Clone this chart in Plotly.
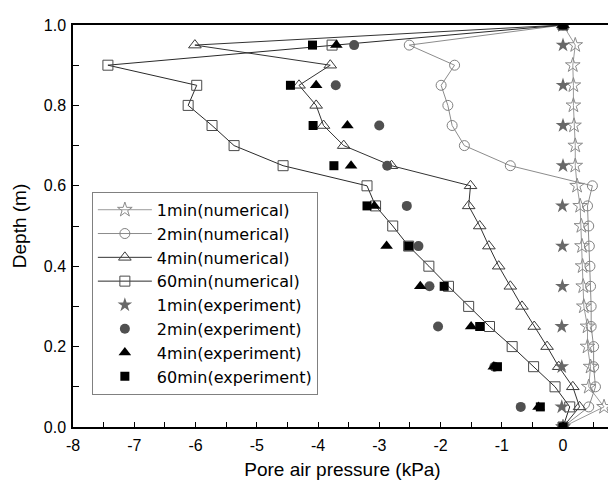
import plotly.graph_objects as go

# Depths (m)
depth_num = [0.0, 0.05, 0.10, 0.15, 0.20, 0.25, 0.30, 0.35, 0.40, 0.45, 0.50,
             0.55, 0.60, 0.65, 0.70, 0.75, 0.80, 0.85, 0.90, 0.95, 1.0]
depth_exp = [0.0, 0.05, 0.15, 0.25, 0.35, 0.45, 0.55, 0.65, 0.75, 0.85, 0.95, 1.0]

# Numerical pore air pressure (kPa)
num_1min = [0, 0.67, 0.42, 0.45, 0.40, 0.40, 0.34, 0.33, 0.32, 0.31, 0.30,
            0.28, 0.23, 0.20, 0.20, 0.18, 0.17, 0.17, 0.16, 0.20, 0]
num_2min = [0, 0.42, 0.53, 0.50, 0.50, 0.46, 0.46, 0.45, 0.44, 0.43, 0.42,
            0.40, 0.48, -0.86, -1.61, -1.81, -1.88, -1.99, -1.77, -2.51, 0]
num_4min = [0, 0.27, 0.16, -0.07, -0.26, -0.47, -0.67, -0.86, -1.05, -1.21, -1.36,
            -1.54, -1.51, -2.80, -3.58, -3.91, -4.03, -4.31, -3.80, -6.01, 0]
num_60min = [0, 0.11, -0.13, -0.48, -0.83, -1.20, -1.54, -1.87, -2.19, -2.52, -2.78,
             -3.06, -3.20, -4.57, -5.37, -5.73, -6.12, -5.98, -7.43, -3.77, 0]

# Experimental pore air pressure (kPa)
exp_1min = [0, -0.02, -0.02, -0.02, -0.01, -0.01, -0.01, 0.0, 0.0, 0.0, 0.0, 0]
exp_2min = [0, -0.69, -1.12, -2.04, -2.18, -2.36, -2.55, -2.87, -3.00, -3.71, -3.41, 0]
exp_4min = [0, -0.40, -1.13, -1.50, -2.33, -2.88, -3.08, -3.46, -3.52, -4.03, -3.70, 0]
exp_60min = [0, -0.37, -1.07, -1.36, -1.94, -2.52, -3.20, -3.74, -4.08, -4.45, -4.09, 0]

names_num = ["1min(numerical)", "2min(numerical)", "4min(numerical)", "60min(numerical)"]
names_exp = ["1min(experiment)", "2min(experiment)", "4min(experiment)", "60min(experiment)"]

# Axis tick labels
x_tick_vals = [-8, -7, -6, -5, -4, -3, -2, -1, 0]
x_tick_text = ["-8", "-7", "-6", "-5", "-4", "-3", "-2", "-1", "0"]
y_tick_vals = [0.0, 0.2, 0.4, 0.6, 0.8, 1.0]
y_tick_text = ["0.0", "0.2", "0.4", "0.6", "0.8", "1.0"]

fig = go.Figure()

num_styles = [
    ("star-open", "#8a8a8a", "#9a9a9a", 11),
    ("circle-open", "#808080", "#8c8c8c", 10),
    ("triangle-up-open", "#3a3a3a", "#333333", 11),
    ("square-open", "#4a4a4a", "#2a2a2a", 10),
]
for name, xs, (sym, mc, lc, ms) in zip(names_num, [num_1min, num_2min, num_4min, num_60min], num_styles):
    fig.add_trace(go.Scatter(
        x=xs, y=depth_num, name=name, mode="lines+markers",
        line=dict(color=lc, width=1),
        marker=dict(symbol=sym, size=ms, color=mc, line=dict(width=1, color=mc)),
    ))

exp_styles = [
    ("star", "#686868", 11),
    ("circle", "#505050", 10),
    ("triangle-up", "#000000", 11),
    ("square", "#000000", 9),
]
for name, xs, (sym, mc, ms) in zip(names_exp, [exp_1min, exp_2min, exp_4min, exp_60min], exp_styles):
    fig.add_trace(go.Scatter(
        x=xs, y=depth_exp, name=name, mode="markers",
        marker=dict(symbol=sym, size=ms, color=mc, line=dict(width=0)),
    ))

font_family = "Liberation Sans, Arial, sans-serif"

# The page body has an 8 px margin, so margins compensate for it.
fig.update_layout(
    width=616, height=485,
    margin=dict(l=65, r=12, t=9, b=66),
    paper_bgcolor="white", plot_bgcolor="white",
    font=dict(family=font_family, size=16, color="black"),
    showlegend=True,
    legend=dict(
        x=0.035, y=0.585, xanchor="left", yanchor="top",
        bgcolor="white", bordercolor="#808080", borderwidth=1,
        font=dict(family="DejaVu Sans, sans-serif", size=16, color="black"),
        itemwidth=54, tracegroupgap=0,
    ),
    xaxis=dict(
        range=[-8, 0.8], tickvals=x_tick_vals, ticktext=x_tick_text,
        ticks="inside", ticklen=5, tickwidth=1, tickcolor="black",
        minor=dict(dtick=0.5, tick0=0, ticks="inside", ticklen=5, tickcolor="black"),
        showline=True, linecolor="black", linewidth=1.5, mirror=True,
        showgrid=False, zeroline=False,
        title=dict(text="Pore air pressure (kPa)", font=dict(size=19), standoff=10),
        tickfont=dict(size=16), ticklabelstandoff=3,
    ),
    yaxis=dict(
        range=[0, 1.0], tickvals=y_tick_vals, ticktext=y_tick_text,
        ticks="inside", ticklen=6, tickwidth=1, tickcolor="black",
        minor=dict(dtick=0.1, tick0=0, ticks="inside", ticklen=6, tickcolor="black"),
        showline=True, linecolor="black", linewidth=1.5, mirror=True,
        showgrid=False, zeroline=False,
        title=dict(text="Depth (m)", font=dict(size=19), standoff=12),
        tickfont=dict(size=16), ticklabelstandoff=2,
    ),
)

fig.write_html("out.html")
